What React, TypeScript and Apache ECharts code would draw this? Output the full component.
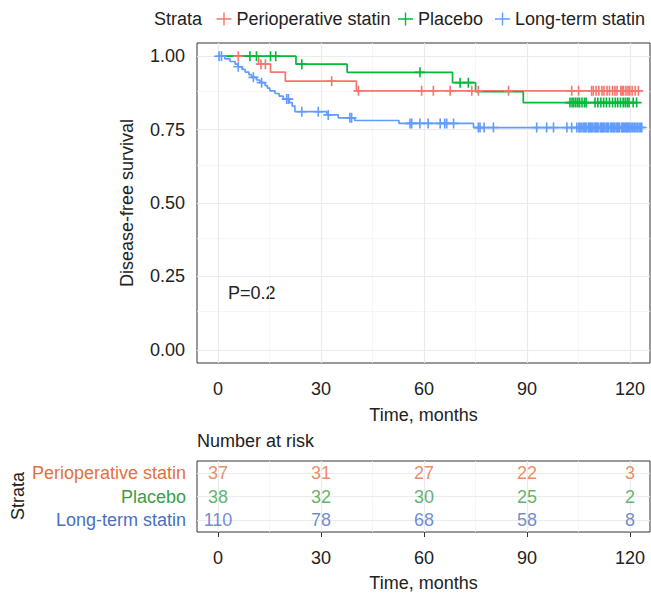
import React, { useEffect, useRef } from "react";
import * as echarts from "echarts";

const FONT = "'Liberation Sans', Arial, Helvetica, sans-serif";
const FS = 18;

const strata = ["Perioperative statin", "Placebo", "Long-term statin"];
const curveColors = ["#F8766D", "#00BA38", "#619CFF"];
const tableColors = ["#E4703E", "#3A9E47", "#4A6FC2"];

// Kaplan-Meier steps: [time (months), survival after the step]
const periSteps = [[0, 1], [11.8, 0.973], [15.3, 0.946], [19.6, 0.915], [40.3, 0.882], [122.4, 0.882]];
const placeboSteps = [[0, 1], [22.7, 0.973], [37.6, 0.945], [68.3, 0.91], [75.0, 0.879], [88.9, 0.842], [121.9, 0.842]];
const longSteps = [
  [0, 1], [2.0, 0.991], [3.5, 0.982], [5.0, 0.973], [5.8, 0.964], [7.0, 0.955], [7.9, 0.946],
  [9.0, 0.937], [9.8, 0.928], [11.2, 0.919], [12.2, 0.91], [13.7, 0.9], [14.4, 0.891],
  [15.1, 0.882], [16.6, 0.873], [17.8, 0.864], [19.0, 0.854], [20.8, 0.842], [21.6, 0.83],
  [22.4, 0.811], [31.7, 0.8], [35.0, 0.79], [39.8, 0.781], [52.7, 0.771], [74.4, 0.757], [123.4, 0.757],
];

// Censoring times (months)
const periCensor = [5.9, 12.5, 13.8, 33.1, 40.9, 59.3, 62.7, 67.6, 73.9, 75.8, 84.6, 103.0, 105.0, 108.8,
  109.3, 110.1, 110.9, 111.8, 112.4, 113.3, 114.0, 114.9, 115.6, 116.2, 117.3, 117.7, 118.1, 118.8, 119.4,
  119.9, 120.6, 121.5, 122.4];
const placeboCensor = [9.3, 11.2, 15.3, 16.8, 24.4, 58.8, 70.5, 72.9, 102.5, 103.1, 103.6, 104.2, 104.8,
  105.3, 106.0, 106.7, 107.2, 109.8, 110.6, 111.5, 112.3, 113.1, 114.0, 114.9, 115.7, 116.4, 117.2, 118.0,
  118.6, 119.2, 119.7, 120.9, 121.9];
const longCensor = [0.3, 1.0, 5.9, 10.3, 12.7, 20.0, 20.5, 24.4, 29.2, 32.1, 38.4, 38.9, 55.9, 56.4, 58.8,
  61.2, 64.7, 66.0, 66.6, 68.6, 75.8, 76.3, 77.5, 80.2, 92.8, 95.7, 97.7, 101.6, 103.0, 104.5, 105.1, 105.4,
  105.8, 106.3, 106.6, 106.9, 107.2, 107.8, 108.1, 108.4, 108.7, 109.0, 109.5, 109.9, 110.1, 110.4, 110.7,
  111.3, 111.6, 111.9, 112.2, 112.5, 113.0, 113.2, 113.5, 113.8, 114.4, 114.7, 115.0, 115.3, 115.6, 116.1,
  116.3, 116.6, 116.9, 117.5, 117.8, 118.0, 118.3, 118.7, 119.0, 119.2, 119.5, 119.9, 120.3, 120.8, 121.2,
  121.7, 122.1, 122.6, 123.0, 123.4];

// Number at risk table
const riskTimes = [0, 30, 60, 90, 120];
const riskPeri = [37, 31, 27, 22, 3];
const riskPlacebo = [38, 32, 30, 25, 2];
const riskLong = [110, 78, 68, 58, 8];

const xTicks = [0, 30, 60, 90, 120];
const xMinor = [15, 45, 75, 105];
const yTicks = [0, 0.25, 0.5, 0.75, 1];
const yMinor = [0.125, 0.375, 0.625, 0.875];

const CROSS = "path://M4.1,0h1.6v9.8h-1.6z M0,4.1h9.8v1.6h-9.8z";
const KEY = "path://M0,6.3h15v1.4h-15z M6.8,0.5h1.4v13h-1.4z";

function survAt(steps: number[][], t: number) {
  let s = 1;
  for (const [et, es] of steps) if (et <= t) s = es;
  return s;
}

export default function App() {
  const ref = useRef<HTMLDivElement>(null);
  useEffect(() => {
    document.body.style.margin = "0";
    const chart = echarts.init(ref.current!, null, { renderer: "svg" });
    const stepsAll = [periSteps, placeboSteps, longSteps];
    const censAll = [periCensor, placeboCensor, longCensor];
    const riskAll = [riskPeri, riskPlacebo, riskLong];
    const rowCats = [strata[2], strata[1], strata[0]];

    const major = { color: "#EBEBEB", width: 1.2, type: "solid" };
    const minor = { color: "#F4F4F4", width: 0.8, type: "solid" };

    const gridMain = {
      type: "line", xAxisIndex: 0, yAxisIndex: 0, data: [], silent: true, z: 1,
      markLine: {
        z: 1, silent: true, symbol: "none", label: { show: false }, animation: false,
        data: [
          ...xMinor.map((v) => ({ xAxis: v, lineStyle: minor })),
          ...yMinor.map((v) => ({ yAxis: v, lineStyle: minor })),
          ...xTicks.map((v) => ({ xAxis: v, lineStyle: major })),
          ...yTicks.map((v) => ({ yAxis: v, lineStyle: major })),
        ],
      },
    };
    const gridTable = {
      type: "line", xAxisIndex: 1, yAxisIndex: 1, data: [], silent: true, z: 1,
      markLine: {
        z: 1, silent: true, symbol: "none", label: { show: false }, animation: false,
        data: [
          ...xMinor.map((v) => ({ xAxis: v, lineStyle: minor })),
          ...xTicks.map((v) => ({ xAxis: v, lineStyle: major })),
          ...[0, 1, 2].map((v) => ({ yAxis: v, lineStyle: major })),
        ],
      },
    };

    const lines = strata.map((name, i) => ({
      name, type: "line", step: "end", xAxisIndex: 0, yAxisIndex: 0, showSymbol: false, z: 3,
      data: stepsAll[i], color: curveColors[i], lineStyle: { color: curveColors[i], width: 1.7 },
      silent: true,
    }));
    const cens = strata.map((name, i) => ({
      name: "cens" + i, type: "scatter", xAxisIndex: 0, yAxisIndex: 0, z: 4, symbol: CROSS, symbolSize: 10,
      data: censAll[i].map((t) => [t, survAt(stepsAll[i], t)]),
      itemStyle: { color: curveColors[i], opacity: 1 }, silent: true,
    }));
    const table = strata.map((name, i) => ({
      name: "risk" + i, type: "scatter", xAxisIndex: 1, yAxisIndex: 1, z: 6, symbolSize: 1,
      data: riskTimes.map((t, j) => [t, name, riskAll[i][j]]),
      itemStyle: { color: "rgba(0,0,0,0)" }, silent: true,
      label: {
        show: true, position: "inside", formatter: (p: any) => String(p.value[2]),
        color: tableColors[i], fontSize: FS, fontFamily: FONT,
      },
    }));

    const axisText = { fontSize: FS, color: "#222", fontFamily: FONT };
    const tick = { show: true, length: 5, lineStyle: { color: "#333", width: 1 } };

    const legendBase = (left: number, name: string) => ({
      left, top: 5, orient: "horizontal", data: [name], icon: KEY, itemWidth: 15, itemHeight: 14,
      textStyle: { ...axisText }, selectedMode: false,
    });

    chart.setOption({
      animation: false,
      backgroundColor: "#fff",
      textStyle: { fontFamily: FONT },
      legend: [legendBase(211.5, strata[0]), legendBase(393, strata[1]), legendBase(490, strata[2])],
      grid: [
        { left: 197, top: 43, width: 453, height: 320, show: true, borderColor: "#333", borderWidth: 1, backgroundColor: "#fff" },
        { left: 197, top: 461, width: 453, height: 71, show: true, borderColor: "#333", borderWidth: 1, backgroundColor: "#fff" },
      ],
      xAxis: [
        {
          gridIndex: 0, type: "value", min: -6.12, max: 125.8,
          splitLine: { show: false }, axisLine: { show: false },
          axisTick: { ...tick, customValues: xTicks },
          axisLabel: { ...axisText, margin: 17, customValues: xTicks },
          name: "Time, months", nameLocation: "middle", nameGap: 43, nameTextStyle: { ...axisText },
        },
        {
          gridIndex: 1, type: "value", min: -6.12, max: 125.8,
          splitLine: { show: false }, axisLine: { show: false },
          axisTick: { ...tick, customValues: xTicks },
          axisLabel: { ...axisText, margin: 17, customValues: xTicks },
          name: "Time, months", nameLocation: "middle", nameGap: 42, nameTextStyle: { ...axisText },
        },
      ],
      yAxis: [
        {
          gridIndex: 0, type: "value", min: -0.045, max: 1.045,
          splitLine: { show: false }, axisLine: { show: false },
          axisTick: { ...tick, customValues: yTicks },
          axisLabel: { ...axisText, margin: 12, customValues: yTicks, formatter: (v: number) => v.toFixed(2) },
        },
        {
          gridIndex: 1, type: "category", data: rowCats,
          splitLine: { show: false }, axisLine: { show: false },
          axisTick: { ...tick, alignWithLabel: true },
          axisLabel: {
            ...axisText, margin: 11,
            color: (v: string) => tableColors[strata.indexOf(v)],
          },
        },
      ],
      graphic: [
        { type: "text", left: 154, top: 10, style: { text: "Strata", fontSize: FS, fill: "#222", fontFamily: FONT } },
        {
          type: "text", x: 127, y: 203, rotation: Math.PI / 2,
          style: { text: "Disease-free survival", fontSize: FS, fill: "#222", fontFamily: FONT, textAlign: "center", textVerticalAlign: "middle" },
        },
        { type: "text", left: 228, top: 284, style: { text: "P=0.2", fontSize: FS, fill: "#222", fontFamily: FONT } },
        { type: "text", left: 197, top: 432, style: { text: "Number at risk", fontSize: FS, fill: "#222", fontFamily: FONT } },
        {
          type: "text", x: 18, y: 496, rotation: Math.PI / 2,
          style: { text: "Strata", fontSize: FS, fill: "#222", fontFamily: FONT, textAlign: "center", textVerticalAlign: "middle" },
        },
      ],
      series: [gridMain, gridTable, ...lines, ...cens, ...table],
    });
    return () => chart.dispose();
  }, []);
  return <div ref={ref} style={{ width: 651, height: 594, position: "absolute", left: 0, top: 0 }} />;
}
